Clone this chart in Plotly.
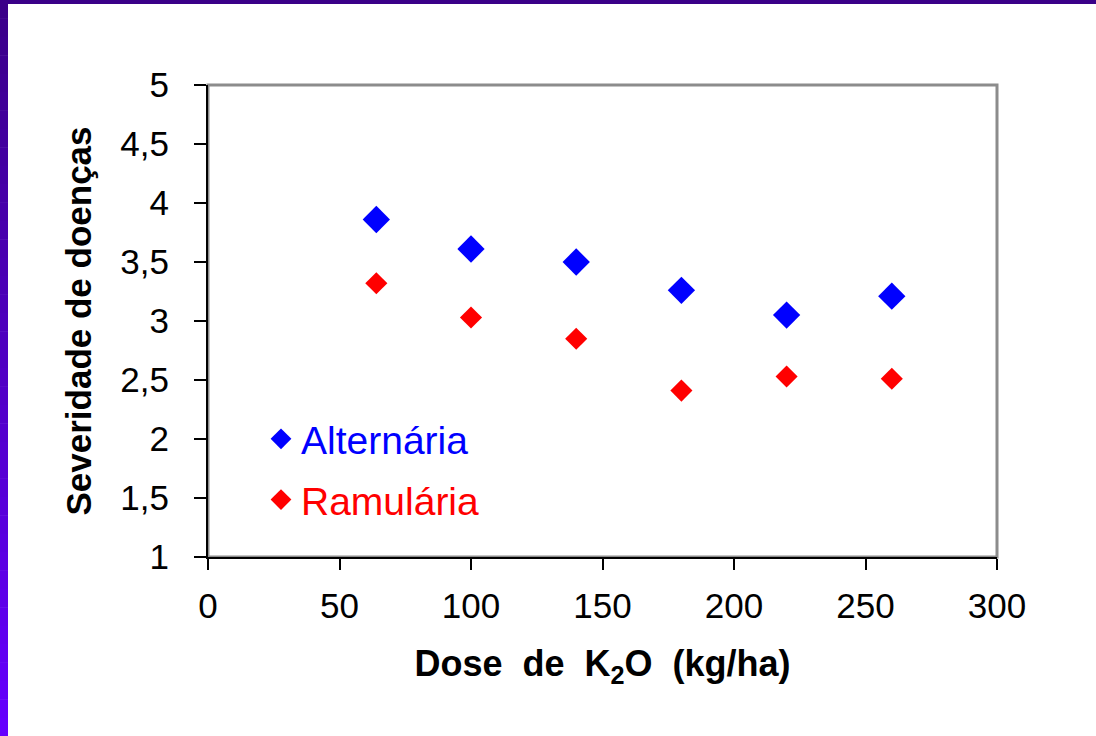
import plotly.graph_objects as go

# ---- data ----
dose = [64, 100, 140, 180, 220, 260]
alternaria = [3.86, 3.61, 3.50, 3.26, 3.05, 3.21]
ramularia = [3.32, 3.03, 2.85, 2.41, 2.53, 2.51]
x_ticks = [0, 50, 100, 150, 200, 250, 300]
y_ticks = [1, 1.5, 2, 2.5, 3, 3.5, 4, 4.5, 5]
y_tick_text = ["1", "1,5", "2", "2,5", "3", "3,5", "4", "4,5", "5"]

W, H = 1096, 736
L, R, T, B = 208, 997, 85, 557
pw, ph = R - L, B - T

def px(xp):
    return (xp - L) / pw

def py(yp):
    return (B - yp) / ph

FONT = "Liberation Sans, Arial, sans-serif"

fig = go.Figure()
fig.add_trace(go.Scatter(
    x=dose, y=alternaria, mode="markers",
    name='<span style="color:#0000ff">Alternária</span>',
    legendgroup="a",
    marker=dict(symbol="diamond", size=21, color="#0000ff"),
))
fig.add_trace(go.Scatter(
    x=dose, y=ramularia, mode="markers",
    name='<span style="color:#ff0000">Ramulária</span>',
    legendgroup="r",
    marker=dict(symbol="diamond", size=17, color="#ff0000"),
))

shapes = []
# plot-area frame (gray top/right)
shapes.append(dict(type="rect", xref="paper", yref="paper", x0=0, x1=1, y0=0, y1=1,
                   line=dict(color="#8c8c8c", width=3), layer="below"))
# top strip
shapes.append(dict(type="rect", xref="paper", yref="paper", x0=px(0), x1=px(W),
                   y0=py(4), y1=py(0), line=dict(width=0), fillcolor="#3a0088", layer="below"))
# left gradient strip
n = 40
c0 = (58, 0, 136)
c1 = (102, 0, 255)
for i in range(n):
    t = (i + 0.5) / n
    c = tuple(int(round(c0[k] + (c1[k] - c0[k]) * t)) for k in range(3))
    y0 = H * i / n
    y1 = H * (i + 1) / n
    shapes.append(dict(type="rect", xref="paper", yref="paper", x0=px(0), x1=px(8),
                       y0=py(y1 + 0.5), y1=py(y0), line=dict(width=0),
                       fillcolor="rgb(%d,%d,%d)" % c, layer="below"))

fig.update_layout(
    width=W, height=H,
    margin=dict(l=L, r=W - R, t=T, b=H - B, pad=0),
    paper_bgcolor="white", plot_bgcolor="white",
    font=dict(family=FONT, color="black"),
    shapes=shapes,
    showlegend=True,
    legend=dict(
        x=px(261), y=py(407), xanchor="left", yanchor="top",
        bgcolor="rgba(0,0,0,0)", font=dict(size=39, family=FONT),
        traceorder="grouped", tracegroupgap=7,
        itemsizing="trace",
    ),
    xaxis=dict(
        range=[0, 300], tickvals=x_ticks, ticktext=[str(v) for v in x_ticks],
        showgrid=False, zeroline=False, showline=True, linecolor="black", linewidth=2,
        ticks="outside", ticklen=11, tickwidth=2, tickcolor="black",
        tickfont=dict(size=35, family=FONT), ticklabelstandoff=6,
        title=dict(text="<b>Dose  de  K<sub>2</sub>O  (kg/ha)</b>", font=dict(size=36, family=FONT), standoff=27),
    ),
    yaxis=dict(
        range=[1, 5], tickvals=y_ticks, ticktext=y_tick_text,
        showgrid=False, zeroline=False, showline=True, linecolor="black", linewidth=2,
        ticks="outside", ticklen=12, tickwidth=2, tickcolor="black",
        tickfont=dict(size=35, family=FONT), ticklabelstandoff=18,
        title=dict(text="<b>Severidade de doenças</b>", font=dict(size=35, family=FONT), standoff=18),
    ),
)

fig.write_html("out.html")
